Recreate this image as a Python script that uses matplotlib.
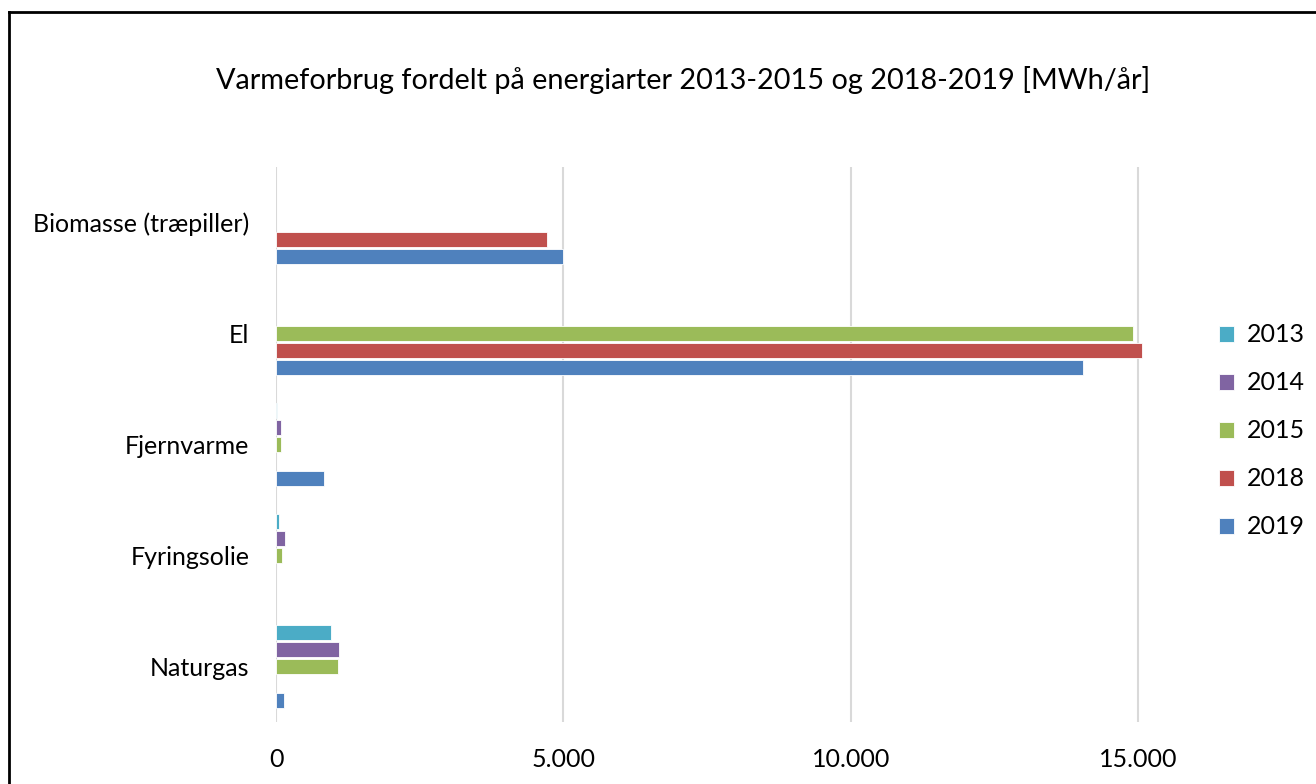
import numpy as np
import matplotlib.pyplot as plt
from matplotlib.lines import Line2D
from matplotlib.ticker import FuncFormatter

plt.rcParams['font.family'] = ['Lato', 'DejaVu Sans']

# data (MWh/år)
categories = ['Biomasse (træpiller)', 'El', 'Fjernvarme', 'Fyringsolie', 'Naturgas']
years = ['2013', '2014', '2015', '2018', '2019']
v2013 = [0, 0, 20, 55, 955]
v2014 = [0, 0, 90, 165, 1090]
v2015 = [0, 14900, 90, 100, 1085]
v2018 = [4710, 15060, 0, 0, 0]
v2019 = [5000, 14030, 835, 0, 145]
colors = ['#4BACC6', '#8064A2', '#9BBB59', '#C0504D', '#4F81BD']

series = [v2013, v2014, v2015, v2018, v2019]

fig = plt.figure(figsize=(13.16, 7.84), dpi=100)
ax = fig.add_axes([276 / 1316, 62 / 784, (1190 - 276) / 1316, 555 / 784])

y = np.arange(len(categories))
step = 0.153
for j, (vals, col, yr) in enumerate(zip(series, colors, years)):
    vals = np.array(vals)
    keep = vals > 0  # skip empty bars so no edge stub is drawn
    ax.barh(y[keep] + (j - 2) * step, vals[keep], height=0.14, color=col, label=yr,
            edgecolor='white', linewidth=0.6, zorder=3)

ax.set_ylim(-0.5, len(categories) - 0.5)
ax.invert_yaxis()
ax.set_xlim(0, 15900)
ax.set_xticks([0, 5000, 10000, 15000])
ax.xaxis.set_major_formatter(FuncFormatter(lambda v, p: f'{int(v):,}'.replace(',', '.')))
ax.set_yticks(y)
ax.set_yticklabels(categories)
ax.grid(axis='x', color='#D9D9D9', linewidth=1.5, zorder=0)
for s in ax.spines.values():
    s.set_visible(False)
ax.tick_params(axis='both', length=0, labelsize=18)
ax.tick_params(axis='x', pad=19)
ax.tick_params(axis='y', pad=19)

fig.text(683 / 1316, 1 - 80 / 784, 'Varmeforbrug fordelt på energiarter 2013-2015 og 2018-2019 [MWh/år]',
         ha='center', va='center', fontsize=20.8)

fig.legend(loc='center left', bbox_to_anchor=(1219 / 1316, 1 - 431 / 784), frameon=False,
           fontsize=18, handlelength=0.6, handleheight=0.6, handletextpad=0.52,
           labelspacing=1.0, borderaxespad=0, borderpad=0)

# frame lines (left and top) as in the reference
fig.add_artist(Line2D([9 / 1316, 9 / 1316], [0, 1 - 11.5 / 784], color='black', lw=2,
                      transform=fig.transFigure))
fig.add_artist(Line2D([9 / 1316, 1], [1 - 11.5 / 784, 1 - 11.5 / 784], color='black', lw=2,
                      transform=fig.transFigure))

fig.savefig('out.png', dpi=100)
